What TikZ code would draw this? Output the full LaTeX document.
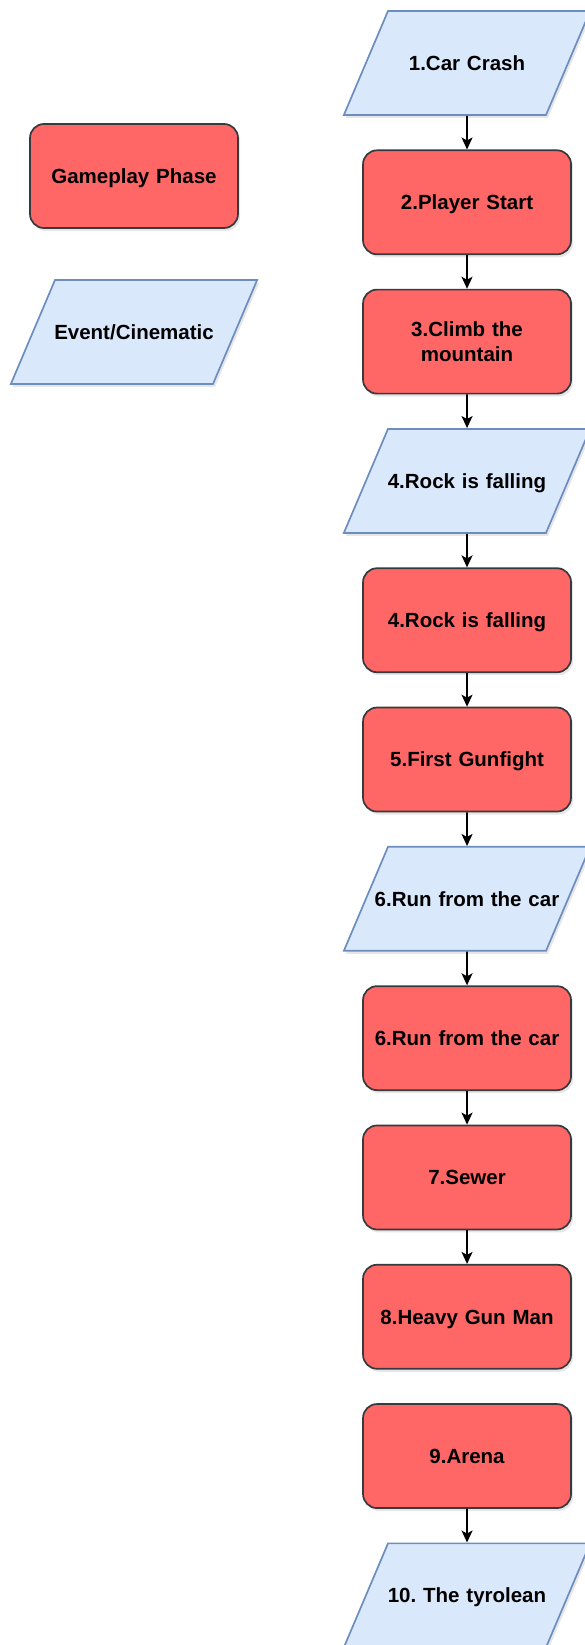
\documentclass[tikz,border=0pt]{standalone}
\usepackage{fontspec}
\setmainfont{Liberation Sans}
\usetikzlibrary{positioning,shapes.geometric,shadows,arrows.meta}
\definecolor{phasered}{HTML}{FF6666}
\definecolor{phaseline}{HTML}{36393D}
\definecolor{eventblue}{HTML}{DAE8FC}
\definecolor{eventline}{HTML}{6C8EBF}
\begin{document}
\begin{tikzpicture}[x=1pt, y=1pt, node distance = 33.6pt, font=\fontsize{20.5}{24.6}\selectfont\bfseries\frenchspacing]
        \tikzstyle{phase} = [draw=phaseline, line width=1.7pt, fill=phasered, rounded corners=14pt, minimum width=208pt, minimum height=104pt, text width=200pt, text height=16pt, text depth=1.5pt, align=center, inner sep=0pt, drop shadow={shadow xshift=2pt, shadow yshift=-3pt, opacity=0.2}]
        \tikzstyle{event} = [draw=eventline, line width=1.7pt, fill=eventblue, trapezium, trapezium left angle=67, trapezium right angle=113, text width=240pt, inner xsep=-41pt, text height=16pt, text depth=1.5pt, inner ysep=43.25pt, align=center, drop shadow={shadow xshift=2pt, shadow yshift=-3pt, opacity=0.2}]
        \tikzstyle{flow} = [line width=1.7pt, -{Stealth[length=12pt, width=11pt, inset=3pt]}]
    \useasboundingbox (0,0) rectangle (584,-1645);

    % legend
    \node[phase] (P) at (134,-176) {Gameplay Phase};
    \node[event] (E) at (134,-332) {Event/Cinematic};

    % flow
    \node[event] (A) at (467,-63) {1.Car Crash};
    \node[phase, below=of A] (B) {2.Player Start};
    \node[phase, below=of B, text height=, text depth=] (C) {3.Climb the\\mountain};
    \node[event, below=of C] (D) {4.Rock is falling};
    \node[phase, below=of D] (F) {4.Rock is falling};
    \node[phase, below=of F] (G) {5.First Gunfight};
    \node[event, below=of G] (H) {6.Run from the car};
    \node[phase, below=of H] (I) {6.Run from the car};
    \node[phase, below=of I] (J) {7.Sewer};
    \node[phase, below=of J] (K) {8.Heavy Gun Man};
    \node[phase, below=of K] (L) {9.Arena};
    \node[event, below=of L] (M) {10. The tyrolean};

    \draw[flow] (A) -- (B);
    \draw[flow] (B) -- (C);
    \draw[flow] (C) -- (D);
    \draw[flow] (D) -- (F);
    \draw[flow] (F) -- (G);
    \draw[flow] (G) -- (H);
    \draw[flow] (H) -- (I);
    \draw[flow] (I) -- (J);
    \draw[flow] (J) -- (K);
    \draw[flow] (L) -- (M);
  \end{tikzpicture}
\end{document}
